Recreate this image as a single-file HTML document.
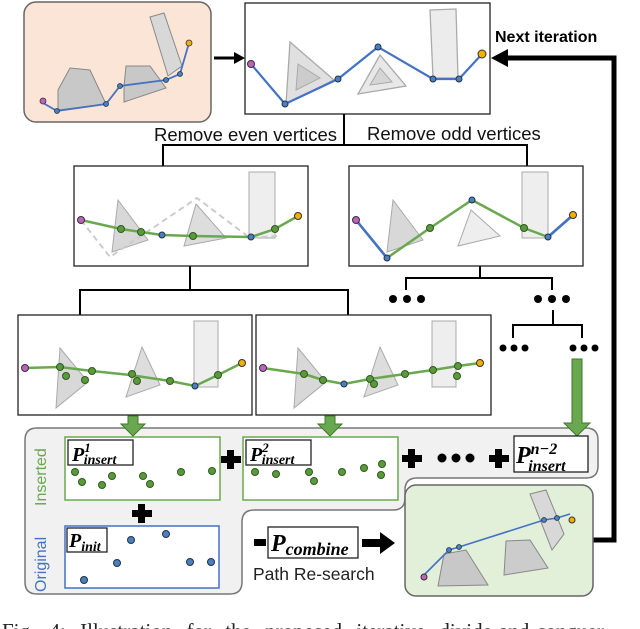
<!DOCTYPE html>
<html><head><meta charset="utf-8"><style>
body{margin:0;background:#fff;width:640px;height:629px;overflow:hidden}
svg{display:block}
</style></head><body>
<svg width="640" height="629" viewBox="0 0 640 629" xmlns="http://www.w3.org/2000/svg" font-family="Liberation Sans, sans-serif">
<rect x="24" y="2" width="187" height="120" rx="12" fill="#fbe5d6" stroke="#666" stroke-width="1.5"/>
<polygon points="58,90 70,68 90,70 106,104 58,110" fill="#c8c8c8" stroke="#888"/>
<polygon points="124,86 126,66 150,66 166,88 124,102" fill="#c8c8c8" stroke="#888"/>
<polygon points="150,17 164,13 182,66 168,76" fill="#d8d8d8" stroke="#888"/>
<polyline points="43,103 57,111 106,104 120,86 166,80 180,74 189,43" fill="none" stroke="#4472c4" stroke-width="1.8"/>
<g fill="#4a7fc0" stroke="#234" stroke-width="0.8"><circle cx="57" cy="111" r="2.5"/><circle cx="106" cy="104" r="2.5"/><circle cx="120" cy="86" r="2.5"/><circle cx="166" cy="80" r="2.5"/><circle cx="180" cy="74" r="2.5"/></g>
<circle cx="43" cy="101" r="3" fill="#c060c0" stroke="#333" stroke-width="0.8"/><circle cx="189" cy="43" r="3" fill="#f0b000" stroke="#333" stroke-width="0.8"/>
<line x1="214" y1="58" x2="236" y2="58" stroke="#000" stroke-width="3"/><polygon points="234,52 245,58 234,64" fill="#000"/>
<rect x="245" y="3" width="245" height="111" fill="#fff" stroke="#222" stroke-width="1.3"/>
<polygon points="290,42 334,80 286,104" fill="#e0e0e0" stroke="#aaa" stroke-width="1.3"/><polygon points="298,64 320,78 296,90" fill="#ccc" stroke="#aaa"/>
<polygon points="380,55 406,86 358,94" fill="#e8e8e8" stroke="#aaa" stroke-width="1.3"/><polygon points="380,68 392,82 370,85" fill="#d5d5d5" stroke="#aaa"/>
<polygon points="430,10 456,9 458,78 433,78" fill="#ececec" stroke="#aaa" stroke-width="1.3"/>
<polyline points="251,64 285,104 338,79 378,47 433,79 459,79 482,54" fill="none" stroke="#4472c4" stroke-width="2.2"/>
<g fill="#4a7fc0" stroke="#234" stroke-width="1"><circle cx="285" cy="104" r="3"/><circle cx="338" cy="79" r="3"/><circle cx="378" cy="47" r="3"/><circle cx="433" cy="79" r="3"/><circle cx="459" cy="79" r="3"/></g>
<circle cx="251" cy="64" r="3.5" fill="#c060c0" stroke="#333"/><circle cx="482" cy="54" r="4" fill="#f0b000" stroke="#333"/>
<text x="495" y="42" font-size="16" font-weight="bold">Next iteration</text>
<polyline points="593,540 614,540 614,58 506,58" fill="none" stroke="#000" stroke-width="5"/>
<polygon points="508,49 491,58 508,67" fill="#000"/>
<g stroke="#000" stroke-width="2" fill="none"><polyline points="344,114 344,145"/><polyline points="163,166 163,145 527,145 527,166"/>
<polyline points="190,266 190,290"/><polyline points="80,315 80,290 348,290 348,315"/>
<polyline points="480,266 480,278"/><polyline points="406,290 406,278 552,278 552,290"/>
<polyline points="553,310 553,325"/><polyline points="513,338 513,325 582,325 582,338"/></g>
<text x="154" y="141" font-size="18.5" fill="#111">Remove even vertices</text>
<text x="367" y="140" font-size="18.5" fill="#111">Remove odd vertices</text>
<rect x="74" y="166" width="234" height="100" fill="#fff" stroke="#222" stroke-width="1.3"/>
<polygon points="118,200 148,240 112,252" fill="#d8d8d8" stroke="#aaa"/><polygon points="196,204 226,238 184,246" fill="#ddd" stroke="#aaa"/>
<rect x="249" y="172" width="26" height="66" fill="#eee" stroke="#aaa"/>
<polyline points="81,220 110,257 197,198 250,238 277,236" fill="none" stroke="#ccc" stroke-width="2" stroke-dasharray="6,4"/>
<polyline points="81,220 121,229 141,232 162,235 193,236 251,237 275,229 298,216" fill="none" stroke="#6aa84f" stroke-width="2.5"/>
<g fill="#5a9a3c" stroke="#2f5a1e"><circle cx="121" cy="229" r="3.5"/><circle cx="141" cy="232" r="3.5"/><circle cx="193" cy="236" r="3.5"/><circle cx="275" cy="229" r="3.5"/></g>
<g fill="#4a7fc0" stroke="#234"><circle cx="162" cy="235" r="3"/><circle cx="251" cy="237" r="3"/></g>
<circle cx="81" cy="220" r="3.5" fill="#c060c0" stroke="#333"/><circle cx="298" cy="216" r="3.5" fill="#f0b000" stroke="#333"/>
<rect x="349" y="166" width="234" height="100" fill="#fff" stroke="#222" stroke-width="1.3"/>
<polygon points="393,200 423,240 387,252" fill="#d8d8d8" stroke="#aaa"/><polygon points="471,210 500,236 458,246" fill="#eee" stroke="#aaa"/>
<rect x="522" y="172" width="26" height="66" fill="#eee" stroke="#aaa"/>
<polyline points="356,220 387,258 430,228 472,200 524,228 548,237 573,215" fill="none" stroke="#6aa84f" stroke-width="2.5"/>
<polyline points="356,220 387,258" stroke="#4472c4" stroke-width="2.5"/><polyline points="548,237 573,215" stroke="#4472c4" stroke-width="2.5"/>
<g fill="#5a9a3c" stroke="#2f5a1e"><circle cx="430" cy="228" r="3.5"/><circle cx="524" cy="228" r="3.5"/></g>
<g fill="#4a7fc0" stroke="#234"><circle cx="387" cy="258" r="3"/><circle cx="472" cy="200" r="3"/><circle cx="548" cy="237" r="3"/></g>
<circle cx="356" cy="220" r="3.5" fill="#c060c0" stroke="#333"/><circle cx="573" cy="215" r="3.5" fill="#f0b000" stroke="#333"/>
<g fill="#000"><circle cx="393" cy="299" r="4"/><circle cx="407" cy="299" r="4"/><circle cx="421" cy="299" r="4"/><circle cx="538" cy="299" r="4"/><circle cx="552" cy="299" r="4"/><circle cx="566" cy="299" r="4"/>
<circle cx="503" cy="348" r="3.5"/><circle cx="514" cy="348" r="3.5"/><circle cx="525" cy="348" r="3.5"/><circle cx="573" cy="348" r="3.5"/><circle cx="584" cy="348" r="3.5"/><circle cx="595" cy="348" r="3.5"/></g>
<rect x="18" y="315" width="234" height="100" fill="#fff" stroke="#222" stroke-width="1.3"/>
<polygon points="60,348 88,382 56,408" fill="#d8d8d8" stroke="#aaa"/><polygon points="142,347 160,385 126,397" fill="#ddd" stroke="#aaa"/>
<rect x="194" y="321" width="24" height="66" fill="#eee" stroke="#aaa"/>
<polyline points="25,368 60,367 92,371 130,375 170,381 195,386 218,375 242,363" fill="none" stroke="#6aa84f" stroke-width="2.5"/>
<g fill="#5a9a3c" stroke="#2f5a1e"><circle cx="60" cy="367" r="3.5"/><circle cx="66" cy="376" r="3.5"/><circle cx="85" cy="380" r="3.5"/><circle cx="92" cy="371" r="3.5"/><circle cx="132" cy="374" r="3.5"/><circle cx="137" cy="381" r="3.5"/><circle cx="170" cy="381" r="3.5"/><circle cx="218" cy="375" r="3.5"/></g>
<circle cx="195" cy="386" r="3" fill="#4a7fc0" stroke="#234"/>
<circle cx="25" cy="368" r="3.5" fill="#c060c0" stroke="#333"/><circle cx="242" cy="363" r="3.5" fill="#f0b000" stroke="#333"/>
<rect x="256" y="315" width="235" height="100" fill="#fff" stroke="#222" stroke-width="1.3"/>
<polygon points="298,348 326,382 294,408" fill="#d8d8d8" stroke="#aaa"/><polygon points="380,347 398,385 364,397" fill="#ddd" stroke="#aaa"/>
<rect x="432" y="321" width="24" height="66" fill="#eee" stroke="#aaa"/>
<polyline points="263,368 304,374 323,380 344,384 370,379 405,374 433,370 458,366 480,363" fill="none" stroke="#6aa84f" stroke-width="2.5"/>
<g fill="#5a9a3c" stroke="#2f5a1e"><circle cx="304" cy="374" r="3.5"/><circle cx="323" cy="380" r="3.5"/><circle cx="370" cy="379" r="3.5"/><circle cx="374" cy="384" r="3.5"/><circle cx="405" cy="374" r="3.5"/><circle cx="433" cy="370" r="3.5"/><circle cx="458" cy="366" r="3.5"/><circle cx="457" cy="376" r="3.5"/></g>
<circle cx="344" cy="384" r="3" fill="#4a7fc0" stroke="#234"/>
<circle cx="263" cy="368" r="3.5" fill="#c060c0" stroke="#333"/><circle cx="480" cy="363" r="3.5" fill="#f0b000" stroke="#333"/>
<path d="M37,428 H586 Q598,428 598,440 V466 Q598,478 586,478 H417 Q405,478 405,490 V498 Q405,510 393,510 H254 Q242,510 242,522 V582 Q242,594 230,594 H37 Q25,594 25,582 V440 Q25,428 37,428 Z" fill="#f1f1f1" stroke="#777" stroke-width="1.5"/>
<g fill="#6aa84f" stroke="#3d7a2a" stroke-width="1"><path d="M128,416 h10 v8 h7 l-12,12 l-12,-12 h7 z"/><path d="M325,416 h10 v8 h7 l-12,12 l-12,-12 h7 z"/><path d="M572,359 h10 v64 h8 l-13,13 l-13,-13 h8 z"/></g>
<text transform="translate(46,506) rotate(-90)" font-size="16" fill="#6aa84f">Inserted</text>
<text transform="translate(46,592) rotate(-90)" font-size="16" fill="#4472c4">Original</text>
<rect x="65" y="437" width="155" height="63" fill="#fff" stroke="#6aa84f" stroke-width="1.5"/>
<rect x="68" y="440" width="65" height="25" fill="#fff" stroke="#222" stroke-width="1.3"/>
<text x="72" y="461" font-family="Liberation Serif, serif" font-size="20" font-weight="bold" font-style="italic">P<tspan font-size="13" dy="-9">1</tspan><tspan font-size="14" dx="-7" dy="12">insert</tspan></text>
<g fill="#5a9a3c" stroke="#2f5a1e"><circle cx="75" cy="472" r="3.5"/><circle cx="82" cy="482" r="3.5"/><circle cx="102" cy="485" r="3.5"/><circle cx="112" cy="476" r="3.5"/><circle cx="143" cy="476" r="3.5"/><circle cx="150" cy="484" r="3.5"/><circle cx="181" cy="472" r="3.5"/><circle cx="212" cy="471" r="3.5"/></g>
<rect x="243" y="437" width="155" height="63" fill="#fff" stroke="#6aa84f" stroke-width="1.5"/>
<rect x="246" y="440" width="65" height="25" fill="#fff" stroke="#222" stroke-width="1.3"/>
<text x="250" y="461" font-family="Liberation Serif, serif" font-size="20" font-weight="bold" font-style="italic">P<tspan font-size="13" dy="-9">2</tspan><tspan font-size="14" dx="-7" dy="12">insert</tspan></text>
<g fill="#5a9a3c" stroke="#2f5a1e"><circle cx="255" cy="472" r="3.5"/><circle cx="276" cy="474" r="3.5"/><circle cx="309" cy="472" r="3.5"/><circle cx="314" cy="481" r="3.5"/><circle cx="342" cy="472" r="3.5"/><circle cx="364" cy="468" r="3.5"/><circle cx="382" cy="464" r="3.5"/><circle cx="381" cy="475" r="3.5"/></g>
<g fill="#000"><rect x="221" y="456" width="20" height="7"/><rect x="227" y="450" width="7" height="19"/>
<rect x="402" y="455" width="20" height="7"/><rect x="408" y="449" width="7" height="19"/>
<circle cx="442" cy="458" r="4.5"/><circle cx="456" cy="458" r="4.5"/><circle cx="470" cy="458" r="4.5"/>
<rect x="489" y="455" width="20" height="7"/><rect x="495" y="449" width="7" height="19"/>
<rect x="132" y="510" width="20" height="7"/><rect x="138" y="504" width="7" height="19"/>
<rect x="254" y="539" width="12" height="7"/><polygon points="362,539 380,539 380,532 395,543 380,554 380,547 362,547"/></g>
<rect x="514" y="436" width="74" height="36" fill="#fff" stroke="#222" stroke-width="1.3"/>
<text x="516" y="463" font-family="Liberation Serif, serif" font-size="24" font-weight="bold" font-style="italic">P<tspan font-size="16" dy="-9">n−2</tspan><tspan font-size="16" dx="-29" dy="17">insert</tspan></text>
<rect x="65" y="526" width="154" height="62" fill="#fff" stroke="#4472c4" stroke-width="1.5"/>
<rect x="67" y="528" width="40" height="24" fill="#fff" stroke="#222" stroke-width="1.3"/>
<text x="69" y="547" font-family="Liberation Serif, serif" font-size="20" font-weight="bold" font-style="italic">P<tspan font-size="14" dy="4">init</tspan></text>
<g fill="#4a7fc0" stroke="#234"><circle cx="131" cy="540" r="3.5"/><circle cx="166" cy="534" r="3.5"/><circle cx="117" cy="563" r="3.5"/><circle cx="84" cy="580" r="3.5"/><circle cx="190" cy="562" r="3.5"/><circle cx="211" cy="562" r="3.5"/></g>
<rect x="268" y="527" width="90" height="31" fill="#fff" stroke="#222" stroke-width="1.3"/>
<text x="271" y="551" font-family="Liberation Serif, serif" font-size="24" font-weight="bold" font-style="italic">P<tspan font-size="18" dy="4">combine</tspan></text>
<text x="253" y="580" font-size="17.5" fill="#222">Path Re-search</text>
<rect x="405" y="485" width="188" height="111" rx="11" fill="#e2efd9" stroke="#666" stroke-width="1.5"/>
<polygon points="444,554 466,550 488,585 438,586" fill="#c8c8c8" stroke="#888"/><polygon points="506,541 530,540 548,568 504,575" fill="#ccc" stroke="#888"/>
<polygon points="530,494 546,490 564,534 552,550" fill="#d8d8d8" stroke="#888"/>
<polyline points="424,575 449,550 459,547 544,520 557,518 570,514" fill="none" stroke="#4472c4" stroke-width="1.6"/>
<g fill="#4a7fc0" stroke="#234" stroke-width="0.8"><circle cx="449" cy="550" r="2.5"/><circle cx="459" cy="547" r="2.5"/><circle cx="544" cy="520" r="2.5"/><circle cx="557" cy="518" r="2.5"/></g>
<circle cx="424" cy="577" r="3" fill="#c060c0" stroke="#333"/><circle cx="572" cy="520" r="3" fill="#f0b000" stroke="#333"/>
<text x="2" y="638" font-family="Liberation Serif, serif" font-size="21" fill="#222" word-spacing="9">Fig. 4: Illustration for the proposed iterative divide-and-conquer</text>
</svg>
</body></html>
